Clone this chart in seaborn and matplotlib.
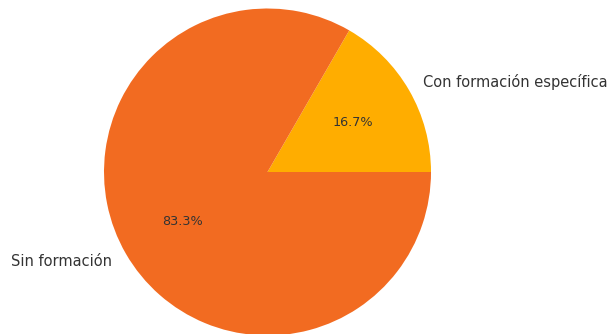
import matplotlib
matplotlib.use("Agg")
import matplotlib.pyplot as plt
import seaborn as sns

# Training status of respondents
categories = ["Con formación específica", "Sin formación"]
counts = [1, 5]
colors = ["#FFAD00", "#F26B21"]

sns.set_theme(style="white")
plt.rcParams["font.family"] = ["DejaVu Sans"]

fig = plt.figure(figsize=(6.1, 3.34), dpi=100)
ax = fig.add_axes([0, 0, 1, 1])

wedges, texts, autotexts = ax.pie(
    counts,
    labels=categories,
    colors=colors,
    autopct="%1.1f%%",
    startangle=0,
    counterclock=True,
    labeldistance=1.1,
    pctdistance=0.6,
    wedgeprops=dict(linewidth=0),
    textprops=dict(color="#333333"),
)
for t in texts:
    t.set_fontsize(10.5)
for t in autotexts:
    t.set_fontsize(9.2)

# Place the pie: center at (267.5, 172) px from top-left, radius 163.5 px
W, H = 610, 334
cx, cy, r = 267.5, 172.0, 163.5
ax.set_xlim(-cx / r, (W - cx) / r)
ax.set_ylim(-(H - cy) / r, cy / r)
ax.set_aspect("auto")
ax.axis("off")

fig.savefig("out.png", dpi=100)
